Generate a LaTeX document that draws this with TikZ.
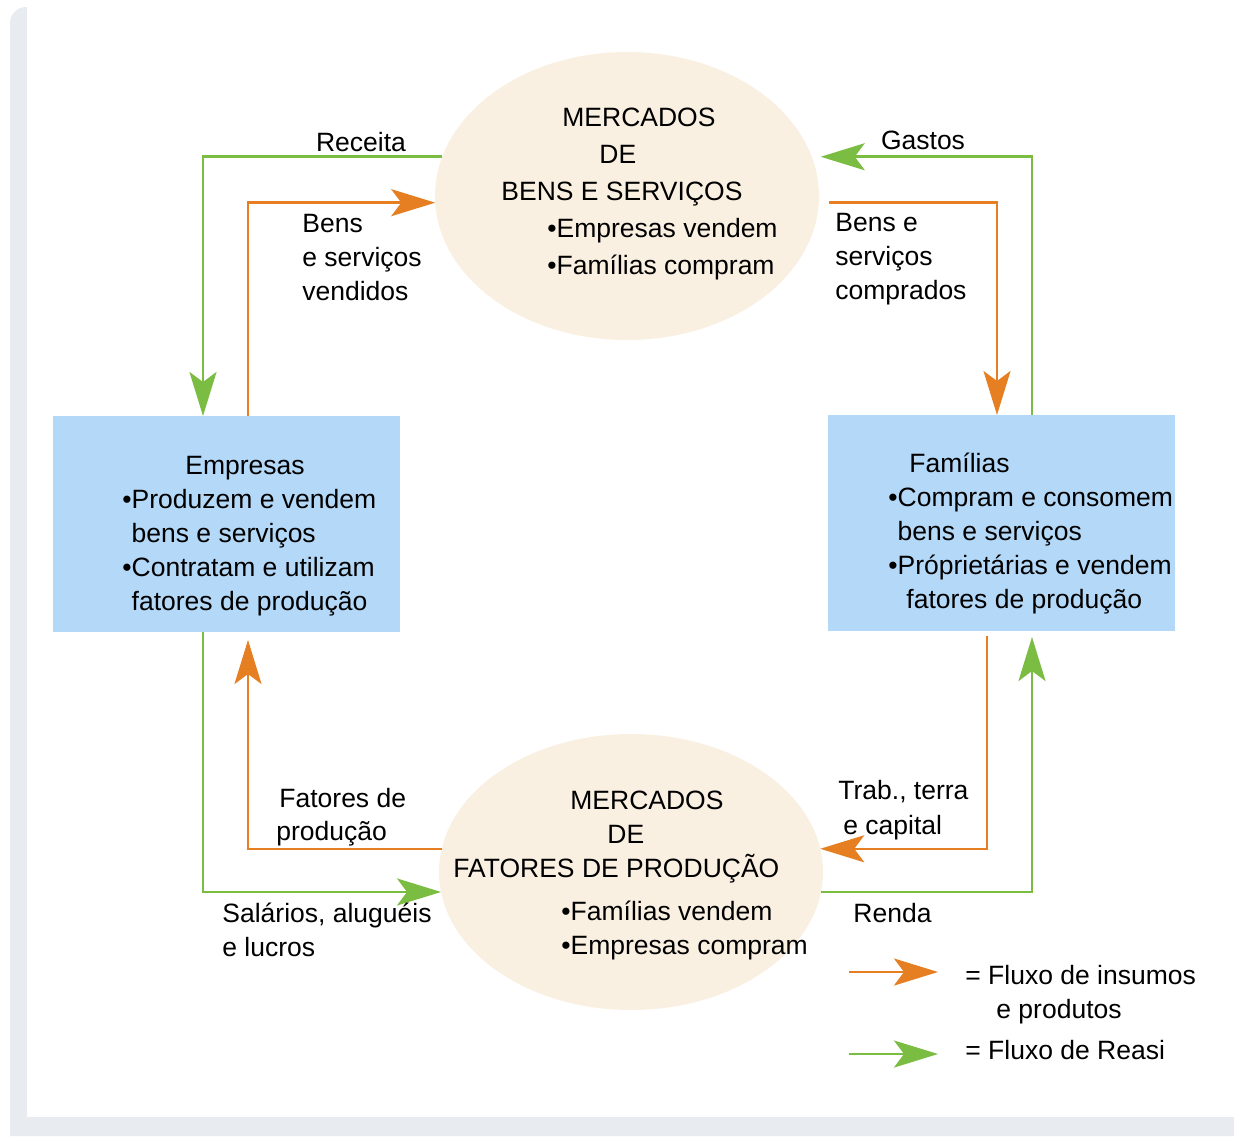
\documentclass[tikz,border=0pt]{standalone}
\usepackage{fontspec}
\setmainfont{Liberation Sans}
\usetikzlibrary{arrows.meta, positioning, shapes.geometric}
\definecolor{myorange}{HTML}{E67E22}
\definecolor{mygreen}{HTML}{7ABD42}
\definecolor{myblue}{HTML}{B4D8F8}
\definecolor{mybeige}{HTML}{FAF0E2}
\definecolor{myframe}{HTML}{E8EBF0}
\tikzset{
  flow/.style={line width=1.25pt, -{Stealth[length=22pt,width=13.5pt,inset=5pt]}},
  goods/.style={flow, myorange},  % insumos e produtos
  money/.style={flow, mygreen},   % renda / gastos
  market/.style={ellipse, fill=mybeige, minimum width=192pt, outer sep=0},
  agent/.style={rectangle, fill=myblue, minimum width=173.5pt, minimum height=108pt, outer sep=0},
  lbl/.style={font=\fontsize{13.25}{17}\selectfont, inner sep=0, align=left}
}

\begin{document}
\begin{tikzpicture}[x=0.5pt, y=-0.5pt]
\useasboundingbox (0,0) rectangle (1234,1136);
% frame
\fill[myframe] (10,1136) {[rounded corners=8pt] -- (10,7) -- (1234,7)} -- (1234,1136) -- cycle;
\fill[white] (27,0) rectangle (1234,1117);
%
% markets and agents
\node[market, minimum height=144pt] (mbs) at (627,196) {};
\node[market, minimum height=138pt] (mfp) at (631,872) {};
\node[agent] (emp) at (226.5,524) {};
\node[agent] (fam) at (1001.5,523) {};
%
% texts (base = last line)
\node[lbl, anchor=base west, font=\fontsize{13.25}{18.4}\selectfont] (mbs text) at (501,274)
  {\hspace{30.5pt}MERCADOS\\\hspace{49pt}DE\\BENS E SERVIÇOS\\\hspace{23pt}•Empresas vendem\\\hspace{23pt}•Famílias compram};
\node[lbl, anchor=base west] (mfp text) at (453,954)
  {\hspace{58.5pt}MERCADOS\\\hspace{77pt}DE\\FATORES DE PRODUÇÃO\\[4.5pt]\hspace{54pt}•Famílias vendem\\\hspace{54pt}•Empresas compram};
\node[lbl, anchor=base west] (emp text) at (122,610)
  {\hspace{31.5pt}Empresas\\•Produzem e vendem\\\phantom{•}bens e serviços\\•Contratam e utilizam\\\phantom{•}fatores de produção};
\node[lbl, anchor=base west] (fam text) at (888,608)
  {\hspace{10.5pt}Famílias\\•Compram e consomem\\\phantom{•}bens e serviços\\•Próprietárias e vendem\\\hspace{9pt}fatores de produção};
%
% flows
\draw[money] (mbs.168) -| (emp.north -| 203,0);
\draw[goods] (emp.north -| 248,0) |- (mbs.182);
\draw[money, shorten >=4.5pt] (fam.north -| 1032,0) |- (mbs.12);
\draw[goods, shorten <=5pt] (mbs.358) -| (fam.north -| 997,0);
\draw[money] (emp.south -| 203,0) |- (mfp.186);
\draw[goods, shorten >=4pt] (mfp.173) -| (emp.south -| 248,0);
\draw[goods, shorten <=2.5pt] (fam.south -| 987,0) |- (mfp.7);
\draw[money, shorten >=3pt] (mfp.354) -| (fam.south -| 1032,0);
%
\node[lbl, anchor=base] (receita) at (361,151) {Receita};
\node[lbl, anchor=base west] (vendidos) at (302,300) {Bens\\e serviços\\vendidos};
\node[lbl, anchor=base] (gastos) at (923,149) {Gastos};
\node[lbl, anchor=base west] (comprados) at (835,299) {Bens e\\serviços\\comprados};
\node[lbl, anchor=base west, font=\fontsize{13.25}{16.5}\selectfont] (fatores) at (276,840) {\hspace{1.5pt}Fatores de\\produção};
\node[lbl, anchor=base west, font=\fontsize{13.25}{17.5}\selectfont] (trab) at (838,834) {Trab., terra\\\hspace{2.5pt}e capital};
\node[lbl, anchor=base west] (salarios) at (222,956) {Salários, aluguéis\\e lucros};
\node[lbl, anchor=base west] (renda) at (853,922) {Renda};
%
% legend
\coordinate (leg1a) at (849,972);
\coordinate (leg1b) at (938,972);
\coordinate (leg2a) at (849,1054);
\coordinate (leg2b) at (938,1054);
\draw[goods] (leg1a) -- (leg1b);
\draw[money] (leg2a) -- (leg2b);
\node[lbl, anchor=base west] (leg1) at (965,1018) {= Fluxo de insumos\\\hspace{15.5pt}e produtos};
\node[lbl, anchor=base west] (leg2) at (965,1059) {= Fluxo de Reasi};
\end{tikzpicture}
\end{document}
